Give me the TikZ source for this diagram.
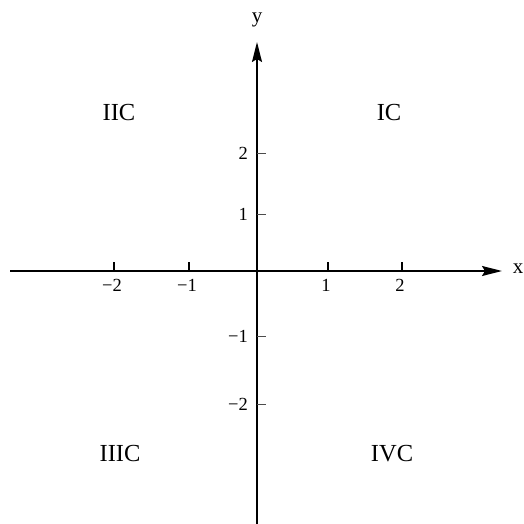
\documentclass[tikz,border=0pt]{standalone}
\usepackage{fontspec}
\setmainfont{Liberation Serif}
\usetikzlibrary{arrows.meta}

\begin{document}
\begin{tikzpicture}[x=1pt, y=-1pt,
  ax/.style={line width=1.7pt, -{Stealth[length=20pt, width=10pt, inset=3pt]}},
  tk/.style={line width=1.4pt},
  tky/.style={line width=0.8pt, black!70},
  lab/.style={inner sep=0pt, font=\fontsize{18.5}{20}\selectfont},
  q/.style={inner sep=0pt, font=\fontsize{24.5}{26}\selectfont}]
  \useasboundingbox (0,0) rectangle (524,524);
  % axes
  \coordinate (o) at (257,271);
  \coordinate (xs) at (10,271);
  \coordinate (xe) at (502,271);
  \coordinate (ys) at (257,524);
  \coordinate (ye) at (257,42);
  \draw[ax] (xs) -- (xe);
  \draw[ax] (ys) -- (ye);
  \node[inner sep=0pt, font=\fontsize{21}{23}\selectfont] (xl) at (518,269) {x};
  \node[inner sep=0pt, font=\fontsize{21}{23}\selectfont] (yl) at (257,20) {y};
  % ticks on x
  \foreach \px/\t/\n in {114/−2/m2, 189/−1/m1, 328/1/p1, 402/2/p2}{
    \draw[tk] (\px,271) -- (\px,262);
    \node[lab, anchor=north] (x\n) at (\px-2,279) {\t};}
  % ticks on y
  \foreach \py/\t/\n in {153/2/p2, 214/1/p1, 336/−1/m1, 404/−2/m2}{
    \draw[tky] (257,\py) -- (266,\py);
    \node[lab, anchor=east] (y\n) at (248,\py) {\t};}
  % quadrants
  \node[q] (q2) at (119,113) {IIC};
  \node[q] (q1) at (389,113) {IC};
  \node[q] (q3) at (120,454) {IIIC};
  \node[q] (q4) at (392,454) {IVC};
\end{tikzpicture}
\end{document}
